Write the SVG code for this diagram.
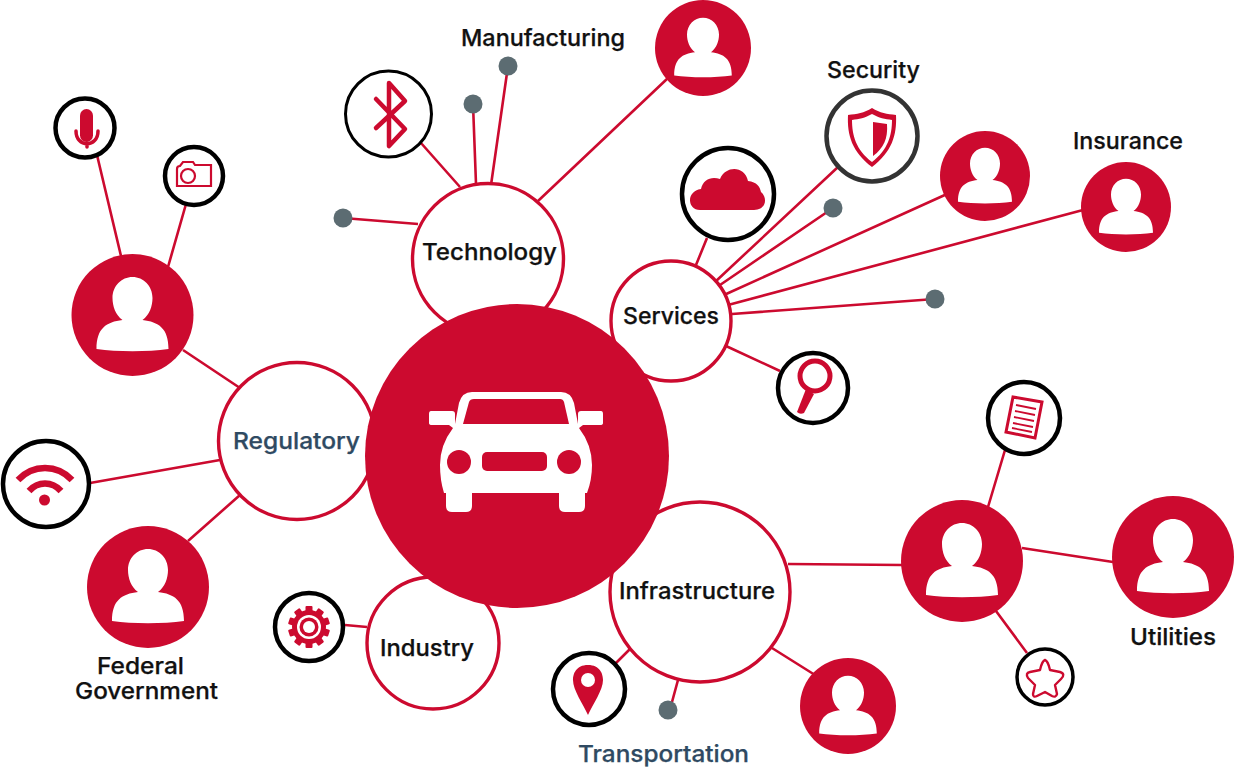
<svg xmlns="http://www.w3.org/2000/svg" xmlns:xlink="http://www.w3.org/1999/xlink" width="1237" height="768" viewBox="0 0 1237 768">
<style>
.l{stroke:#cc0a2f;stroke-width:2.6;fill:none}
.hub{fill:#fff;stroke:#cc0a2f;stroke-width:3.4}
.ic{fill:#fff;stroke:#000;stroke-width:4.5}
.dot{fill:#5c6c72}
.r{fill:#cc0a2f}
.w{fill:#fff}
.ro{fill:none;stroke:#cc0a2f}
text{font-family:"Inter","Liberation Sans",sans-serif;font-weight:500;font-size:23px;fill:#111;stroke:#111;stroke-width:.25;text-anchor:start}
text.b{fill:#2f4a62;stroke:#2f4a62}
</style>
<defs>
<g id="person">
<path class="w" d="M-10,4 C-17,-1 -20,-10 -20,-18 C-20,-30 -11,-39 0,-39 C11,-39 20,-30 20,-18 C20,-10 17,-1 10,4 C26,6 36,12 36,33 C15,36 -15,36 -36,33 C-36,12 -26,6 -10,4Z"/>
</g>
</defs>
<g id="connectors">
<path class="l" d="M421,143L460,187M473,104L476,184M508,66L491,185M668,78L538,201M343,218L418,224"/>
<path class="l" d="M715,282L838,167M720,285L833,208M724,295L947,194M728,305L1083,210M732,314L935,299M696,265L707,238M726,346L780,371"/>
<path class="l" d="M183,350L240,388M90,483L220,460M188,541L240,495M345,625L367,627"/>
<path class="l" d="M788,564L902,565M630,649L612,667M678,680L672,702M772,648L815,675"/>
<path class="l" d="M1005,450L988,507M1022,548L1113,562M996,611L1027,653M97,155L121,256M186,204L168,267"/>
</g>
<g id="technology"><circle class="hub" cx="488" cy="259" r="75.500"/><text x="422" y="260" textLength="135" lengthAdjust="spacingAndGlyphs">Technology</text></g>
<g id="services"><circle class="hub" cx="671" cy="321" r="60"/><text x="623" y="324" textLength="96" lengthAdjust="spacingAndGlyphs">Services</text></g>
<g id="regulatory"><circle class="hub" cx="297" cy="441" r="78.500"/><text class="b" x="233" y="449" textLength="127" lengthAdjust="spacingAndGlyphs">Regulatory</text></g>
<g id="industry"><circle class="hub" cx="433" cy="643" r="66"/><text x="380" y="656" textLength="94" lengthAdjust="spacingAndGlyphs">Industry</text></g>
<g id="infrastructure"><circle class="hub" cx="700" cy="592" r="90"/><text x="619" y="599" textLength="156" lengthAdjust="spacingAndGlyphs">Infrastructure</text></g>
<g id="center">
<circle class="r" cx="517" cy="456" r="152"/>
<path class="w" d="M431,411H452Q455,411 455,414V424L459,403Q462,392 472,392H561Q571,392 574,403L578,424V414Q578,411 581,411H601Q603,411 603,414V423Q603,425 600,425H583L579,428Q592,445 592,465Q592,480 587,493H585V506Q585,512 579,512H565Q559,512 559,506V493H472V506Q472,512 466,512H452Q446,512 446,506V493H444Q440,480 440,465Q440,445 453,428L449,425H432Q429,425 429,423V414Q429,411 431,411Z"/>
<path class="r" d="M463,424L469,402Q470,399 474,399H560Q563,399 564,402L569,424Z"/>
<circle class="r" cx="459" cy="462" r="12"/><circle class="r" cx="569" cy="462" r="12"/>
<rect class="r" x="482" y="452" width="65" height="19" rx="5"/>
</g>
<g id="person-left"><circle class="r" cx="132.500" cy="315" r="61"/><use xlink:href="#person" href="#person" transform="translate(132.500,316)"/></g>
<g id="person-federal"><circle class="r" cx="148" cy="587" r="61"/><use xlink:href="#person" href="#person" transform="translate(148,588)"/><text><tspan x="97" y="674" textLength="87" lengthAdjust="spacingAndGlyphs">Federal</tspan> <tspan x="75" y="699" textLength="143" lengthAdjust="spacingAndGlyphs">Government</tspan></text></g>
<g id="person-manufacturing"><circle class="r" cx="703" cy="48" r="48"/><use xlink:href="#person" href="#person" transform="translate(703,49) scale(.8)"/><text x="461" y="46" textLength="164" lengthAdjust="spacingAndGlyphs">Manufacturing</text></g>
<g id="person-services"><circle class="r" cx="985" cy="176" r="45"/><use xlink:href="#person" href="#person" transform="translate(985,177) scale(.75)"/></g>
<g id="person-insurance"><circle class="r" cx="1126" cy="207" r="45"/><use xlink:href="#person" href="#person" transform="translate(1126,208) scale(.75)"/><text x="1073" y="149" textLength="110" lengthAdjust="spacingAndGlyphs">Insurance</text></g>
<g id="person-infra"><circle class="r" cx="962" cy="561" r="61"/><use xlink:href="#person" href="#person" transform="translate(962,562)"/></g>
<g id="person-utilities"><circle class="r" cx="1173" cy="557" r="61"/><use xlink:href="#person" href="#person" transform="translate(1173,558)"/><text x="1130" y="645" textLength="86" lengthAdjust="spacingAndGlyphs">Utilities</text></g>
<g id="person-transport"><circle class="r" cx="848" cy="706" r="48"/><use xlink:href="#person" href="#person" transform="translate(848,707) scale(.8)"/><text class="b" x="578" y="762" textLength="171" lengthAdjust="spacingAndGlyphs">Transportation</text></g>
<g id="dots"><circle class="dot" cx="508" cy="66" r="9.500"/><circle class="dot" cx="473" cy="104" r="9.500"/><circle class="dot" cx="343" cy="218" r="9.500"/><circle class="dot" cx="833" cy="208" r="9.500"/><circle class="dot" cx="935" cy="299" r="9.500"/><circle class="dot" cx="668" cy="710" r="9.500"/></g>
<g id="bluetooth"><circle class="ic" style="stroke-width:3" cx="388.500" cy="114" r="43"/><path class="ro" stroke-width="4.500" stroke-linejoin="round" stroke-linecap="round" d="M376,99L405,129L389,146V83L405,101L376,128"/></g>
<g id="mic"><circle class="ic" cx="85" cy="128" r="29.500"/><rect class="r" x="80" y="109" width="13" height="33" rx="6.500"/><path class="ro" stroke-width="3.500" stroke-linecap="round" d="M76,131C76,148 98,148 98,131M87,143V147"/></g>
<g id="camera"><circle class="ic" cx="194" cy="176" r="29"/><path class="ro" stroke-width="2.200" d="M177,186V169Q177,166 180,166L183,162H193L195,165H211V186Z"/><circle class="ro" stroke-width="2.200" cx="188" cy="176" r="7"/></g>
<g id="wifi"><circle class="ic" cx="46" cy="484" r="43"/><path class="ro" stroke-width="6.500" d="M18,480C33,464 57,464 72,480M29,491C38,481 52,481 61,491"/><circle class="r" cx="44.500" cy="500" r="5.500"/></g>
<g id="gear"><circle class="ic" cx="309" cy="627" r="34"/><g class="r"><circle cx="309" cy="627" r="17"/><rect x="305.500" y="606" width="7" height="42" rx="1"/><rect x="305.500" y="606" width="7" height="42" rx="1" transform="rotate(36 309 627)"/><rect x="305.500" y="606" width="7" height="42" rx="1" transform="rotate(72 309 627)"/><rect x="305.500" y="606" width="7" height="42" rx="1" transform="rotate(108 309 627)"/><rect x="305.500" y="606" width="7" height="42" rx="1" transform="rotate(144 309 627)"/></g><circle class="w" cx="309" cy="627" r="12"/><circle class="r" cx="309" cy="627" r="9.500"/><circle class="w" cx="309" cy="627" r="6"/></g>
<g id="pin"><circle class="ic" cx="589" cy="689" r="36"/><path class="r" d="M588,665C576,665 573,674 573,680C573,690 583,704 588,715C593,704 603,690 603,680C603,674 600,665 588,665Z"/><circle class="w" cx="588" cy="680" r="7"/></g>
<g id="cloud"><circle class="ic" cx="728" cy="194" r="46"/><path class="r" d="M700,210C687,210 686,191 701,189C703,179 712,176 720,179C726,165 745,166 748,181C757,182 760,187 761,192C768,198 766,210 754,210Z"/></g>
<g id="shield"><circle class="ic" cx="872" cy="136" r="45.500" style="stroke:#333"/><path class="r" fill-rule="evenodd" d="M872,108C864,113 857,114 848,115C847,135 852,152 872,167C892,152 897,135 896,115C887,114 880,113 872,108ZM872,114C879,118 885,119 892,120C892,135 888,150 872,162C856,150 852,135 852,120C859,119 865,118 872,114Z"/><path class="r" d="M873,122L887,124C888,138 884,148 873,156Z"/></g>
<g id="magnifier"><circle class="ic" cx="813" cy="388" r="35"/><circle class="ro" stroke-width="5" cx="815" cy="376" r="15"/><path class="r" d="M806,389L814,394L804,413Q800,415 797,412Z"/></g>
<g id="document"><circle class="ic" cx="1024" cy="418" r="36"/><path class="ro" stroke-width="3" d="M1013,397L1042,402L1035,438L1006,432Z"/><path class="ro" stroke-width="1.800" d="M1016,405L1036,409M1015,411L1035,415M1014,417L1034,421M1013,423L1033,427M1012,428L1032,432"/></g>
<g id="star"><circle class="ic" style="stroke-width:3.500" cx="1045" cy="677" r="28"/><path class="ro" stroke-width="2.400" stroke-linejoin="round" d="M1045,660Q1048,661 1050,670L1060,672Q1066,674 1061,679L1055,685L1057,694Q1056,698 1052,696L1045,692L1037,696Q1033,698 1033,694L1035,685L1028,678Q1025,673 1030,672L1040,670Q1042,661 1045,660Z"/></g>
<g id="security-label"><text x="827" y="78" textLength="93" lengthAdjust="spacingAndGlyphs">Security</text></g>
</svg>
